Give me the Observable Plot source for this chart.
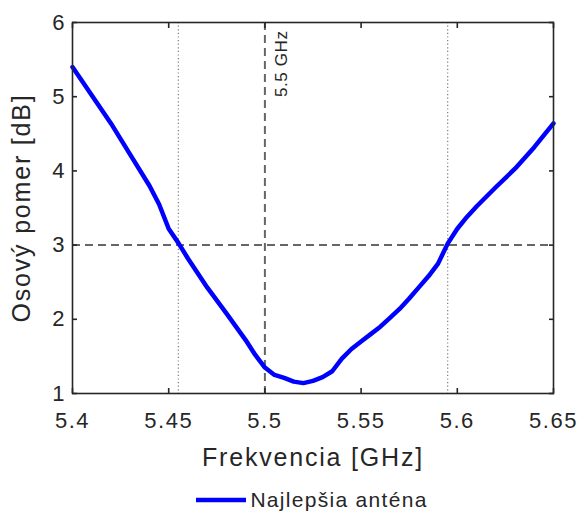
<!DOCTYPE html>
<html>
<head>
<meta charset="utf-8">
<script src="https://cdn.jsdelivr.net/npm/d3@7"></script>
<script src="https://cdn.jsdelivr.net/npm/@observablehq/plot@0.6"></script>
<style>
  html, body { margin: 0; padding: 0; background: #fff; }
  body { width: 582px; height: 520px; overflow: hidden; font-family: "Liberation Sans", Arial, sans-serif; }
  #legend { height: 40px; display: flex; align-items: center; justify-content: center; padding-left: 42px; padding-bottom: 0px; box-sizing: border-box; font-size: 21px; letter-spacing: 1.3px; color: #262626; }
  #legend svg { margin-right: 4px; }
</style>
</head>
<body>
<div id="chart"></div>
<div id="legend"></div>
<script>
// Data
const freq = [5.40, 5.41, 5.42, 5.43, 5.44, 5.445, 5.45, 5.455, 5.46, 5.47, 5.48, 5.49, 5.495, 5.50, 5.505, 5.51, 5.515, 5.52, 5.525, 5.53, 5.535, 5.54, 5.545, 5.55, 5.555, 5.56, 5.565, 5.57, 5.575, 5.58, 5.585, 5.59, 5.595, 5.60, 5.605, 5.61, 5.62, 5.63, 5.64, 5.65];
const ratio = [5.40, 5.02, 4.64, 4.22, 3.80, 3.55, 3.22, 3.03, 2.82, 2.43, 2.08, 1.72, 1.52, 1.35, 1.25, 1.21, 1.16, 1.14, 1.17, 1.22, 1.30, 1.47, 1.60, 1.70, 1.80, 1.90, 2.02, 2.14, 2.28, 2.43, 2.58, 2.75, 3.02, 3.22, 3.38, 3.52, 3.78, 4.03, 4.32, 4.64];
const xTicks = [5.4, 5.45, 5.5, 5.55, 5.6, 5.65];
const xTickLabels = ["5.4", "5.45", "5.5", "5.55", "5.6", "5.65"];
const yTicks = [1, 2, 3, 4, 5, 6];
const yTickLabels = ["1", "2", "3", "4", "5", "6"];
const centerFreq = [5.5];
const bandEdges = [5.455, 5.595];
const threshold = [3];
const centerLabel = ["5.5 GHz"];
const seriesName = "Najlepšia anténa";
const xLabel = ["Frekvencia [GHz]"];
const yLabel = ["Osový pomer [dB]"];

const data = freq.map((f, i) => ({f, v: ratio[i]}));
const ink = "#262626";

const chart = Plot.plot({
  width: 582,
  height: 480,
  marginLeft: 72,
  marginRight: 29,
  marginTop: 22,
  marginBottom: 87,
  style: {fontFamily: "Liberation Sans, Arial, sans-serif", color: ink, background: "#fff"},
  x: {domain: [5.4, 5.65]},
  y: {domain: [1, 6]},
  marks: [
    Plot.ruleX(bandEdges, {stroke: "#7a7a7a", strokeWidth: 1.2, strokeDasharray: "1.2,2.4"}),
    Plot.ruleY(threshold, {stroke: "#666", strokeWidth: 2, strokeDasharray: "8,5"}),
    Plot.ruleX(centerFreq, {stroke: "#666", strokeWidth: 2, strokeDasharray: "8,5"}),
    Plot.text(centerLabel, {x: centerFreq, text: d => d, frameAnchor: "top", rotate: -90, textAnchor: "end", lineAnchor: "middle", dx: 17, dy: 8, fontSize: 17, fill: ink, className: "ls1"}),
    Plot.line(data, {x: "f", y: "v", stroke: "#0000ff", strokeWidth: 4.5, strokeLinejoin: "round"}),
    Plot.frame({stroke: ink, strokeWidth: 1.6}),
    Plot.axisX(xTicks, {anchor: "bottom", tickSize: -5, tickPadding: 24, tickFormat: (d, i) => xTickLabels[i], fontSize: 22, strokeWidth: 1.6, stroke: ink, fill: ink, label: null}),
    Plot.axisX(xTicks, {anchor: "top", tickSize: -5, tickFormat: () => "", strokeWidth: 1.6, stroke: ink, label: null}),
    Plot.axisY(yTicks, {anchor: "left", tickSize: -5, tickPadding: 13, tickFormat: (d, i) => yTickLabels[i], fontSize: 22, strokeWidth: 1.6, stroke: ink, fill: ink, label: null}),
    Plot.axisY(yTicks, {anchor: "right", tickSize: -5, tickFormat: () => "", strokeWidth: 1.6, stroke: ink, label: null}),
    Plot.text(xLabel, {frameAnchor: "bottom", textAnchor: "middle", lineAnchor: "middle", dy: 64, text: d => d, fontSize: 25, fill: ink, className: "ls18"}),
    Plot.text(yLabel, {frameAnchor: "left", textAnchor: "middle", lineAnchor: "middle", rotate: -90, dx: -51, text: d => d, fontSize: 25, fill: ink, className: "ls18"})
  ]
});

document.getElementById("chart").appendChild(chart);
chart.querySelectorAll("[aria-label='x-axis tick label'] text").forEach(t => t.style.letterSpacing = "1.5px");
chart.querySelectorAll(".ls18 text, g.ls18 text").forEach(t => t.style.letterSpacing = "1.8px");
chart.querySelectorAll(".ls1 text, g.ls1 text").forEach(t => t.style.letterSpacing = "0.6px");

const legend = document.getElementById("legend");
legend.innerHTML = `<svg width="50" height="10"><line x1="0" x2="50" y1="5" y2="5" stroke="#0000ff" stroke-width="4.5"/></svg><span>${seriesName}</span>`;
</script>
</body>
</html>
